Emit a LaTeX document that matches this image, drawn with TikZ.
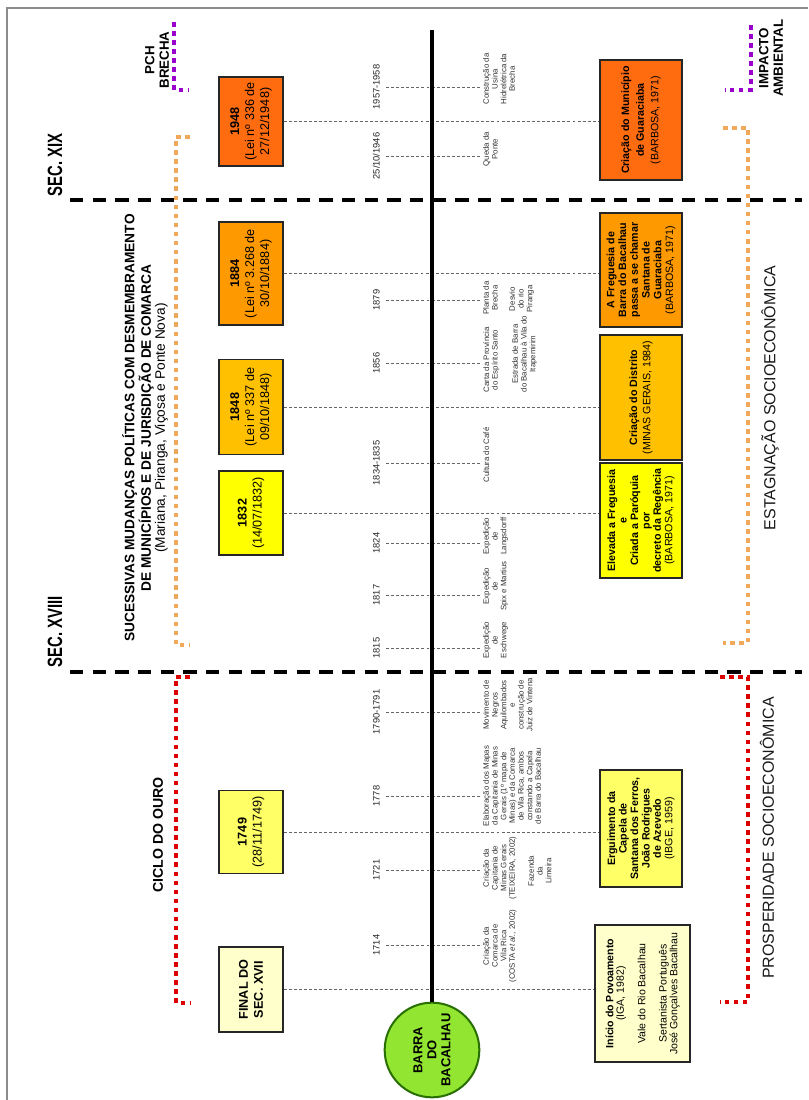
\documentclass[tikz,border=0pt]{standalone}
\usepackage{fontspec}
\setmainfont{Liberation Sans}
\newfontfamily\narrowfont[FakeStretch=0.72]{Liberation Sans}
\usetikzlibrary{shapes.geometric}
\definecolor{cA}{RGB}{255,108,16}
\definecolor{cB}{RGB}{255,153,0}
\definecolor{cC}{RGB}{255,192,0}
\definecolor{cD}{RGB}{255,255,0}
\definecolor{cE}{RGB}{255,255,102}
\definecolor{cF}{RGB}{255,255,204}
\definecolor{cGreen}{RGB}{146,230,50}
\definecolor{cGreenD}{RGB}{40,110,0}
\definecolor{cOrDot}{RGB}{240,168,90}
\definecolor{cRedDot}{RGB}{220,0,0}
\definecolor{cPurDot}{RGB}{153,0,204}
\begin{document}
\begin{tikzpicture}[x=0.75pt,y=-0.75pt,
  lbox/.style={draw=black!85, line width=1.1pt, rotate=90, minimum height=48pt, inner sep=1pt, align=center, font=\fontsize{9.5pt}{11.2pt}\selectfont},
  rbox/.style={draw=black!85, line width=1.1pt, rotate=90, minimum height=61.5pt, inner sep=1pt, align=center, font=\fontsize{8pt}{8.6pt}\selectfont},
  yearlbl/.style={rotate=90, anchor=south, inner sep=4.5pt, font=\fontsize{7pt}{8pt}\selectfont, text=black!85},
  evt/.style={rotate=90, anchor=north, inner sep=1.5pt, align=center, font=\fontsize{5.9pt}{6.5pt}\selectfont, text=black!80},
  link/.style={draw=black!60, line width=0.6pt, dash pattern=on 2.2pt off 1.6pt},
  century/.style={line width=2.3pt, dash pattern=on 10pt off 7pt},
  dotsq/.style={line width=3.4pt, dash pattern=on 3.4pt off 3.4pt},
  biglbl/.style={rotate=90, align=center, inner sep=0pt}
]
\useasboundingbox (0,0) rectangle (808,1100);
\clip (0,0) rectangle (808,1100);
\fill[white] (0,0) rectangle (808,1100);
% frame
\draw[black!45, line width=0.8pt] (7,1100) -- (7,8) -- (808,8);

% century dividers
\coordinate (c19a) at (70,200);
\coordinate (c19b) at (802,200);
\coordinate (c18a) at (70,672);
\coordinate (c18b) at (802,672);
\draw[century] (c19a) -- (c19b);
\draw[century] (c18a) -- (c18b);
\node[biglbl, font=\narrowfont\bfseries\fontsize{15.5pt}{16pt}\selectfont] (sec19) at (55,165) {SEC. XIX};
\node[biglbl, font=\narrowfont\bfseries\fontsize{15.5pt}{16pt}\selectfont] (sec18) at (55,632) {SEC. XVIII};

% dotted brackets
\draw[dotsq, cOrDot] (190,137) -- (176,137) -- (176,645) -- (190,645);
\draw[dotsq, cRedDot] (190,677) -- (176,677) -- (176,1003) -- (190,1003);
\draw[dotsq, cOrDot] (723,128) -- (748,128) -- (748,643) -- (723,643);
\draw[dotsq, cRedDot] (720,677) -- (748,677) -- (748,1002) -- (720,1002);
\draw[dotsq, cPurDot] (174,22) -- (174,90) -- (189,90);
\draw[dotsq, cPurDot] (751,25) -- (751,90) -- (725,90);

% big labels
\node[biglbl, font=\bfseries\fontsize{10pt}{11pt}\selectfont] (pch) at (157,60) {PCH\\BRECHA};
\node[biglbl, font=\bfseries\fontsize{10pt}{11pt}\selectfont] (impacto) at (771,58) {IMPACTO\\AMBIENTAL};
\node[biglbl, font=\fontsize{10.3pt}{9.6pt}\selectfont] (suc) at (145,428) {\textbf{SUCESSIVAS MUDANÇAS POLÍTICAS COM DESMEMBRAMENTO}\\\textbf{DE MUNICÍPIOS E DE JURISDIÇÃO DE COMARCA}\\(Mariana, Piranga, Viçosa e Ponte Nova)};
\node[biglbl, font=\bfseries\fontsize{10.6pt}{12pt}\selectfont] (ciclo) at (158,835) {CICLO DO OURO};
\node[biglbl, font=\fontsize{12pt}{13pt}\selectfont, text=black!90] (estag) at (770,398) {ESTAGNAÇÃO SOCIOECONÔMICA};
\node[biglbl, font=\fontsize{12pt}{13pt}\selectfont, text=black!90] (prosp) at (767,838) {PROSPERIDADE SOCIOECONÔMICA};

% main timeline and origin
\node[circle, draw=cGreenD, line width=1.5pt, fill=cGreen, minimum size=71pt, inner sep=0pt, rotate=90, align=center, font=\bfseries\fontsize{9.7pt}{10.5pt}\selectfont] (barra) at (432,1050) {BARRA\\DO\\BACALHAU};
\coordinate (tltop) at (432,30);

% left boxes
\node[lbox, fill=cA, minimum width=66.75pt] (L1948) at (251,121.5) {\textbf{1948}\\(Lei nº 336 de\\27/12/1948)};
\node[lbox, fill=cB, minimum width=77.25pt] (L1884) at (251,273.5) {\textbf{1884}\\(Lei nº 3.268 de\\30/10/1884)};
\node[lbox, fill=cC, minimum width=71.25pt] (L1848) at (251,407) {\textbf{1848}\\(Lei nº 337 de\\09/10/1848)};
\node[lbox, fill=cD, minimum width=63pt] (L1832) at (251,513) {\textbf{1832}\\(14/07/1832)};
\node[lbox, fill=cE, minimum width=62.25pt] (L1749) at (251,832) {\textbf{1749}\\(28/11/1749)};
\node[lbox, fill=cF, minimum width=63.75pt, font=\bfseries\fontsize{9.5pt}{11.2pt}\selectfont] (LXVII) at (251,989.5) {FINAL DO\\SEC. XVII};

% right boxes
\node[rbox, fill=cA, minimum width=90pt, font=\fontsize{8pt}{11pt}\selectfont] (R1948) at (641,120) {\textbf{Criação do Município}\\\textbf{de Guaraciaba}\\(BARBOSA, 1971)};
\node[rbox, fill=cB, minimum width=85.5pt, font=\fontsize{8pt}{8.8pt}\selectfont] (R1884) at (641,270) {\textbf{A Freguesia de}\\\textbf{Barra do Bacalhau}\\\textbf{passa a se chamar}\\\textbf{Santana de}\\\textbf{Guaraciaba}\\(BARBOSA, 1971)};
\node[rbox, fill=cC, minimum width=93.75pt, font=\fontsize{8pt}{10pt}\selectfont] (R1848) at (641,397.5) {\textbf{Criação do Distrito}\\(MINAS GERAIS, 1984)};
\node[rbox, fill=cD, minimum width=86.25pt] (R1832) at (641,520.5) {\textbf{Elevada a Freguesia}\\\textbf{e}\\\textbf{Criada a Paróquia}\\\textbf{por}\\\textbf{decreto da Regência}\\(BARBOSA, 1971)};
\node[rbox, fill=cE, minimum width=87.75pt] (R1749) at (641,828.5) {\textbf{Erguimento da}\\\textbf{Capela de}\\\textbf{Santana dos Ferros,}\\\textbf{João Rodrigues}\\\textbf{de Azevedo}\\(IBGE, 1959)};
\node[rbox, fill=cF, minimum width=102.75pt, minimum height=71.25pt, font=\fontsize{7.9pt}{8pt}\selectfont] (RXVII) at (642.5,993.5) {\textbf{Início do Povoamento}\\(IGA, 1982)\\[8pt]Vale do Rio Bacalhau\\[8pt]Sertanista Português\\José Gonçalves Bacalhau};

% box links
\draw[link] (L1948.south) -- (L1948.south -| R1948.north);
\draw[link] (L1884.south) -- (L1884.south -| R1884.north);
\draw[link] (L1848.south) -- (L1848.south -| R1848.north);
\draw[link] (L1832.south) -- (L1832.south -| R1832.north);
\draw[link] (L1749.south) -- (L1749.south -| R1749.north);
\draw[link] (LXVII.south) -- (LXVII.south -| RXVII.north);

% years and events
\node[yearlbl] (y1957) at (386,87) {1957-1958};
\node[evt] (e1957) at (481,79) {Construção da\\Usina\\Hidrelétrica da\\Brecha};
\node[yearlbl] (y1946) at (386,156) {25/10/1946};
\node[evt] (e1946) at (481,149) {Queda da\\Ponte};
\node[yearlbl] (y1879) at (386,300) {1879};
\node[evt] (e1879) at (481,298) {Planta da\\Brecha};
\node[evt] (e1879b) at (507,299) {Desvio\\do rio\\Piranga};
\node[yearlbl] (y1856) at (386,363) {1856};
\node[evt] (e1856) at (481,360) {Carta da Província\\do Espírito Santo};
\node[evt] (e1856b) at (510,354) {Estrada de Barra\\do Bacalhau à Vila do\\Itapemirim};
\node[yearlbl] (y1834) at (386,463) {1834-1835};
\node[evt] (e1834) at (481,455) {Cultura do Café};
\node[yearlbl] (y1824) at (386,543) {1824};
\node[evt] (e1824) at (481,536) {Expedição\\de\\Langsdorff};
\node[yearlbl] (y1817) at (386,595) {1817};
\node[evt] (e1817) at (481,586) {Expedição\\de\\Spix e Martius};
\node[yearlbl] (y1815) at (386,648) {1815};
\node[evt] (e1815) at (481,640) {Expedição\\de\\Eschwege};
\node[yearlbl] (y1790) at (386,712) {1790-1791};
\node[evt] (e1790) at (481,705) {Movimento de\\Negros\\Aquilombados\\e\\construção de\\Juiz de Vintena};
\node[yearlbl] (y1778) at (386,796) {1778};
\node[evt] (e1778) at (481,786) {Elaboração dos Mapas\\da Capitania de Minas\\Gerais (1º mapa de\\Minas) e da Comarca\\de Vila Rica, ambos\\constando a Capela\\de Barra do Bacalhau};
\node[yearlbl] (y1721) at (386,870) {1721};
\node[evt] (e1721) at (481,868) {Criação da\\Capitania de\\Minas Gerais\\(TEIXEIRA, 2002)};
\node[evt] (e1721b) at (526,871) {Fazenda\\da\\Limeira};
\node[yearlbl] (y1714) at (386,945) {1714};
\node[evt] (e1714) at (481,946) {Criação da\\Comarca de\\Vila Rica\\(COSTA \textit{et al.}, 2002)};

\draw[link] (y1957.south) -- (y1957.south -| e1957.north);
\draw[link] (y1946.south) -- (y1946.south -| e1946.north);
\draw[link] (y1879.south) -- (y1879.south -| e1879.north);
\draw[link] (y1856.south) -- (y1856.south -| e1856.north);
\draw[link] (y1834.south) -- (y1834.south -| e1834.north);
\draw[link] (y1824.south) -- (y1824.south -| e1824.north);
\draw[link] (y1817.south) -- (y1817.south -| e1817.north);
\draw[link] (y1815.south) -- (y1815.south -| e1815.north);
\draw[link] (y1790.south) -- (y1790.south -| e1790.north);
\draw[link] (y1778.south) -- (y1778.south -| e1778.north);
\draw[link] (y1721.south) -- (y1721.south -| e1721.north);
\draw[link] (y1714.south) -- (y1714.south -| e1714.north);
\draw[line width=2.3pt] (tltop) -- (barra.east);
\end{tikzpicture}
\end{document}
